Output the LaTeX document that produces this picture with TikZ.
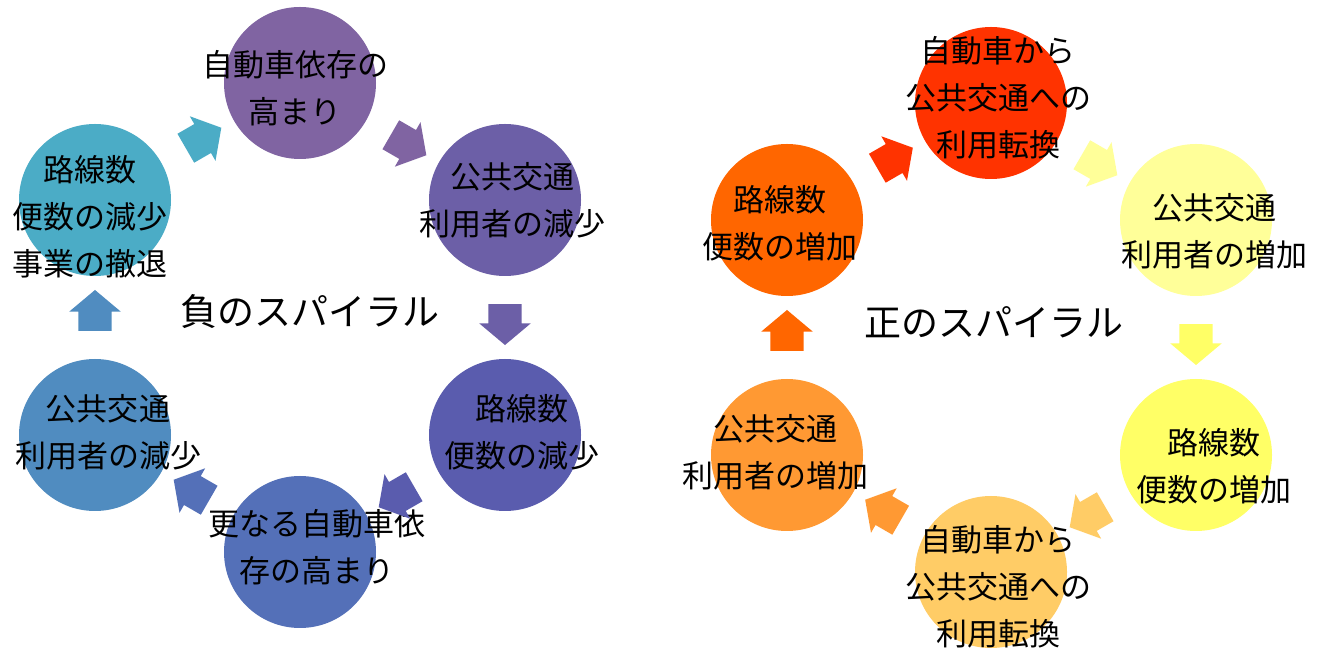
\documentclass[tikz,border=0pt]{standalone}
\usepackage{fontspec}
\newfontfamily\cjk{Noto Sans CJK JP}
\usetikzlibrary{calc,shapes.arrows}

\definecolor{negA}{HTML}{8064A2}
\definecolor{negB}{HTML}{6C5FA7}
\definecolor{negC}{HTML}{5A5CAE}
\definecolor{negD}{HTML}{5470B8}
\definecolor{negE}{HTML}{508CC0}
\definecolor{negF}{HTML}{4BACC6}
\definecolor{posA}{HTML}{FF3300}
\definecolor{posB}{HTML}{FFFF99}
\definecolor{posC}{HTML}{FFFF66}
\definecolor{posD}{HTML}{FFCC66}
\definecolor{posE}{HTML}{FF9933}
\definecolor{posF}{HTML}{FF6600}

\tikzset{
	bubble/.style={circle, minimum size=152pt, inner sep=0pt},
	caption/.style={font=\cjk\fontsize{31}{47}\selectfont, align=center, inner sep=0pt},
	heading/.style={font=\cjk\fontsize{37}{44}\selectfont, inner sep=0pt},
	turn/.style={single arrow, minimum height=41pt, inner xsep=0pt, inner ysep=16.5pt,
		single arrow head extend=9pt, single arrow tip angle=100}
}

\begin{document}
\begin{tikzpicture}[x=1pt, y=1pt]
			%%%%% START %%%%%
			
			\fill[white] (0, 0) rectangle (1322, 653);
			\useasboundingbox (0, 0) rectangle (1322, 653);
			
			%%%%% LEFT %%%%%
			
			\node[bubble, fill=negA] (la) at (300, 570) {};
			\node[bubble, fill=negB] (lb) at (505, 453) {};
			\node[bubble, fill=negC] (lc) at (505, 218) {};
			\node[bubble, fill=negD] (ld) at (300, 101) {};
			\node[bubble, fill=negE] (le) at (95, 218) {};
			\node[bubble, fill=negF] (lf) at (95, 453) {};
			
			\node[caption] (la-t) at ($(la)+(-5, -5)$) {自動車依存の\\高まり};
			\node[caption] (lb-t) at ($(lb)+(7, 0)$) {公共交通\\利用者の減少};
			\node[caption] (lc-t) at ($(lc)+(17, 3)$) {路線数\\便数の減少};
			\node[caption] (ld-t) at ($(ld)+(17, 5)$) {更なる自動車依\\存の高まり};
			\node[caption] (le-t) at ($(le)+(13, 3)$) {公共交通\\利用者の減少};
			\node[caption] (lf-t) at ($(lf)+(-5, -17)$) {路線数\\便数の減少\\事業の撤退};
			
			\node[turn, fill=negF, rotate=30] (lf-la) at ($(lf)!0.5!(la)$) {};
			\node[turn, fill=negA, rotate=-30] (la-lb) at ($(la)!0.5!(lb)$) {};
			\node[turn, fill=negB, rotate=-90] (lb-lc) at ($(lb)!0.5!(lc)$) {};
			\node[turn, fill=negC, rotate=210] (lc-ld) at ($(lc)!0.5!(ld)$) {};
			\node[turn, fill=negD, rotate=150] (ld-le) at ($(ld)!0.5!(le)$) {};
			\node[turn, fill=negE, rotate=90] (le-lf) at ($(le)!0.5!(lf)$) {};
			
			\node[heading] (neg) at (310, 341) {負のスパイラル};
			
			%%%%% RIGHT %%%%%
			
			\node[bubble, fill=posA] (ra) at (991, 550) {};
			\node[bubble, fill=posB] (rb) at (1196, 433) {};
			\node[bubble, fill=posC] (rc) at (1196, 198) {};
			\node[bubble, fill=posD] (rd) at (991, 81) {};
			\node[bubble, fill=posE] (re) at (787, 198) {};
			\node[bubble, fill=posF] (rf) at (787, 433) {};
			
			\node[caption] (ra-t) at ($(ra)+(7, 5)$) {自動車から\\公共交通への\\利用転換};
			\node[caption] (rb-t) at ($(rb)+(18, -11)$) {公共交通\\利用者の増加};
			\node[caption] (rc-t) at ($(rc)+(18, -11)$) {路線数\\便数の増加};
			\node[caption] (rd-t) at ($(rd)+(7, -15)$) {自動車から\\公共交通への\\利用転換};
			\node[caption] (re-t) at ($(re)+(-12, 3)$) {公共交通\\利用者の増加};
			\node[caption] (rf-t) at ($(rf)+(-7, -3)$) {路線数\\便数の増加};
			
			\node[turn, fill=posA, rotate=30] (rf-ra) at ($(rf)!0.5!(ra)$) {};
			\node[turn, fill=posB, rotate=-30] (ra-rb) at ($(ra)!0.5!(rb)$) {};
			\node[turn, fill=posC, rotate=-90] (rb-rc) at ($(rb)!0.5!(rc)$) {};
			\node[turn, fill=posD, rotate=210] (rc-rd) at ($(rc)!0.5!(rd)$) {};
			\node[turn, fill=posE, rotate=150] (rd-re) at ($(rd)!0.5!(re)$) {};
			\node[turn, fill=posF, rotate=90] (re-rf) at ($(re)!0.5!(rf)$) {};
			
			\node[heading] (pos) at (994, 331) {正のスパイラル};
			
			%%%%% END %%%%%
		\end{tikzpicture}
\end{document}
